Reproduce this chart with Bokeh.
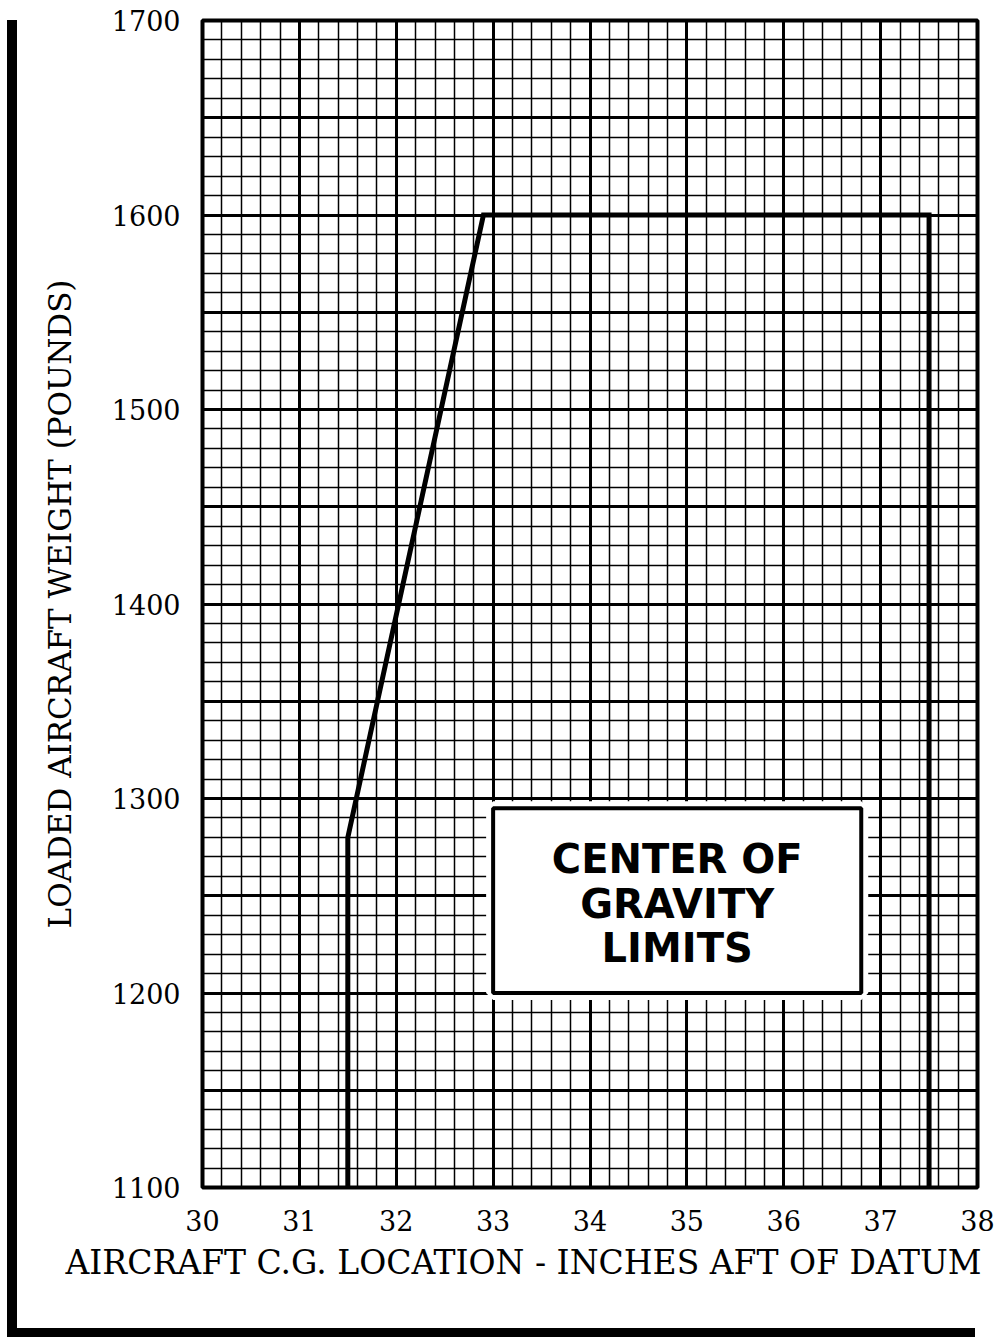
from bokeh.plotting import figure
from bokeh.models import SingleIntervalTicker, FixedTicker, Title, Range1d, ColumnDataSource
from bokeh.core.properties import value
from bokeh.embed import file_html
from bokeh.resources import INLINE

# ---- data ----
cg_location = [31.5, 31.5, 32.9, 37.5, 37.5]
loaded_weight = [1100, 1280, 1600, 1600, 1100]
x_ticks = [30, 31, 32, 33, 34, 35, 36, 37, 38]
y_ticks = [1100, 1200, 1300, 1400, 1500, 1600, 1700]
box_left = [33.0]
box_right = [36.8]
box_bottom = [1200]
box_top = [1295]
label_lines = ["CENTER OF", "GRAVITY", "LIMITS"]
label_x = [34.9, 34.9, 34.9]
label_y = [1269, 1246, 1223]

SERIF = "DejaVu Serif"

p = figure(width=995, height=1337,
           x_range=Range1d(30, 38), y_range=Range1d(1100, 1700),
           output_backend="svg", toolbar_location=None,
           min_border_left=202, min_border_right=18,
           min_border_top=20, min_border_bottom=150)
p.background_fill_color = "white"
p.border_fill_color = None
p.outline_line_color = "black"
p.outline_line_width = 4

# page frame drawn behind the canvas: thick left bar and bottom bar
p.styles = {
    "background-color": "white",
    "background-image": "linear-gradient(black, black), linear-gradient(black, black)",
    "background-size": "10px 1317px, 968px 9px",
    "background-position": "7px 20px, 7px 1328px",
    "background-repeat": "no-repeat",
}

# grid
p.xgrid.ticker = SingleIntervalTicker(interval=1, num_minor_ticks=5)
p.ygrid.ticker = SingleIntervalTicker(interval=50, num_minor_ticks=5)
for g in (p.xgrid, p.ygrid):
    g.grid_line_color = "black"
    g.grid_line_width = 3
    g.grid_line_alpha = 1
    g.minor_grid_line_color = "black"
    g.minor_grid_line_width = 1.5
    g.minor_grid_line_alpha = 1

# axes
p.xaxis.ticker = FixedTicker(ticks=x_ticks)
p.yaxis.ticker = FixedTicker(ticks=y_ticks)
for ax in (p.xaxis, p.yaxis):
    ax.axis_line_color = None
    ax.major_tick_out = 0
    ax.major_tick_in = 0
    ax.minor_tick_out = 0
    ax.minor_tick_in = 0
    ax.major_label_text_font = SERIF
    ax.major_label_text_font_size = "27px"
    ax.major_label_text_color = "black"
p.xaxis.major_label_standoff = 22
p.yaxis.major_label_standoff = 22

p.yaxis.axis_label = "LOADED AIRCRAFT WEIGHT (POUNDS)"
p.yaxis.axis_label_text_font = SERIF
p.yaxis.axis_label_text_font_size = "31px"
p.yaxis.axis_label_text_font_style = "normal"
p.yaxis.axis_label_text_color = "black"
p.yaxis.axis_label_standoff = 31

p.add_layout(Title(text="AIRCRAFT C.G. LOCATION - INCHES AFT OF DATUM",
                   align="left", offset=-137, standoff=15,
                   text_font=SERIF, text_font_size="33px",
                   text_font_style="normal", text_color="black"), "below")

# envelope
p.line(cg_location, loaded_weight, line_color="black", line_width=5, line_join="miter")

# label box
src = ColumnDataSource(dict(left=box_left, right=box_right, bottom=box_bottom, top=box_top))
p.quad(left="left", right="right", bottom="bottom", top="top", source=src,
       fill_color="white", line_color="white", line_width=14)
p.quad(left="left", right="right", bottom="bottom", top="top", source=src,
       fill_color=None, line_color="black", line_width=4)
p.text(x=label_x, y=label_y, text=label_lines,
       text_font=value("DejaVu Sans"), text_font_style="bold",
       text_font_size="40px", text_align="center", text_baseline="middle",
       text_color="black")

open("out.html", "w").write(file_html(p, INLINE))
